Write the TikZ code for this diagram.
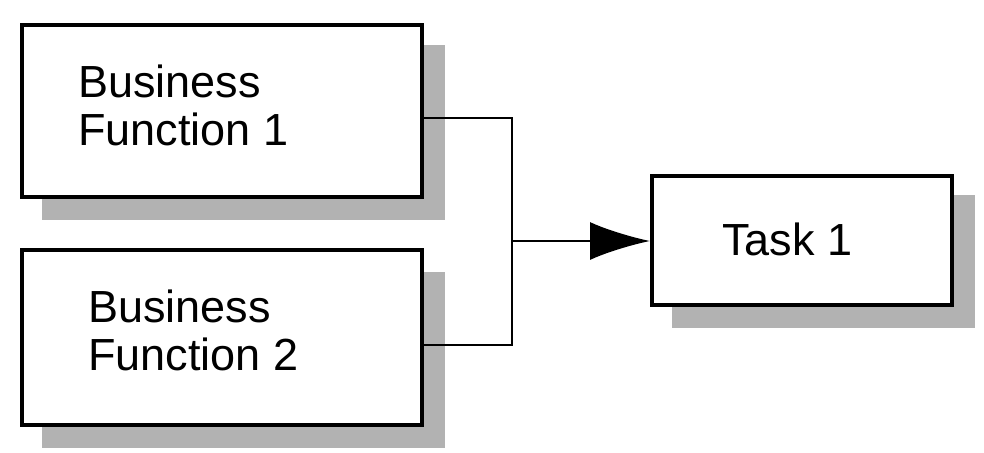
\documentclass[tikz,border=0pt]{standalone}
\usepackage{fontspec}
\setmainfont{Liberation Sans}
\usetikzlibrary{arrows.meta}
\begin{document}
\begin{tikzpicture}[x=1pt,y=-1pt,
  box/.style={draw=black,line width=3.5pt,fill=white},
  shadow/.style={fill=black!30,draw=none},
  lbl/.style={anchor=north west,align=left,font=\fontsize{45}{48}\selectfont,inner sep=0pt}]
\useasboundingbox (0,0) rectangle (984,452);
\fill[shadow] (42,45) rectangle (445,220);
\fill[shadow] (42,272) rectangle (445,448);
\fill[shadow] (672,195) rectangle (975,328);
\draw[box] (22,25) rectangle (422,197);
\draw[box] (22,250) rectangle (422,425);
\draw[box] (652,176) rectangle (952,305);
\node[lbl] (b1) at (78,65) {Business\\Function 1};
\node[lbl] (b2) at (88,290) {Business\\Function 2};
\node[lbl] (t1) at (722,223) {Task 1};
\coordinate (o1) at (424,118);
\coordinate (o2) at (424,345);
\coordinate (j) at (512,241);
\coordinate (tin) at (650,241);
\draw[line width=2.6pt] (o1) -- (512,118) -- (512,345) -- (o2);
\draw[line width=2.6pt,-{Latex[length=60pt,width=38pt]}] (j) -- (tin);
\end{tikzpicture}
\end{document}
